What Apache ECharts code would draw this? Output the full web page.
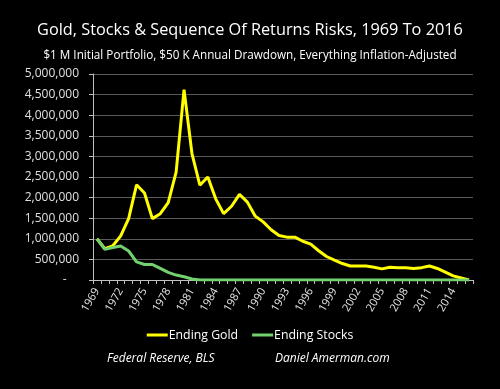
<!DOCTYPE html>
<html><head><meta charset="utf-8">
<script src="https://cdn.jsdelivr.net/npm/echarts@6/dist/echarts.min.js"></script>
<style>html,body{margin:0;padding:0;background:#000;}#c{width:500px;height:389px;}</style>
</head><body><div id="c"></div>
<script>
const years = [];
for (let y = 1969; y <= 2016; y++) years.push(String(y));
const endingGold = [1000000, 760000, 830000, 1070000, 1490000, 2310000, 2110000, 1490000, 1610000, 1880000,
  2620000, 4620000, 3070000, 2300000, 2500000, 1970000, 1610000, 1790000, 2080000, 1890000,
  1550000, 1410000, 1220000, 1080000, 1040000, 1040000, 940000, 870000, 710000, 570000,
  480000, 400000, 340000, 340000, 340000, 310000, 270000, 310000, 300000, 300000,
  280000, 300000, 340000, 280000, 190000, 100000, 50000, 0];
const endingStocks = [1000000, 744000, 790000, 824000, 704000, 440000, 376000, 376000, 280000, 184000,
  120000, 80000, 24000, 0, 0, 0, 0, 0, 0, 0,
  0, 0, 0, 0, 0, 0, 0, 0, 0, 0,
  0, 0, 0, 0, 0, 0, 0, 0, 0, 0,
  0, 0, 0, 0, 0, 0, 0, 0];
const titleText = 'Gold, Stocks & Sequence Of Returns Risks, 1969 To 2016';
const subtitleText = '$1 M Initial Portfolio, $50 K Annual Drawdown, Everything Inflation-Adjusted';
const sourceLeft = 'Federal Reserve, BLS';
const sourceRight = 'Daniel Amerman.com';

const FONT = '"Open Sans", sans-serif';
const chart = echarts.init(document.getElementById('c'));
chart.setOption({
  backgroundColor: '#000',
  animation: false,
  textStyle: { fontFamily: FONT },
  title: [
    { text: titleText, left: 'center', top: 17, textStyle: { color: '#fff', fontSize: 16.3, fontWeight: 'normal', fontFamily: FONT } },
    { text: subtitleText, left: 'center', top: 45, textStyle: { color: '#fff', fontSize: 11.7, fontWeight: 'normal', fontFamily: FONT } }
  ],
  grid: { left: 93, right: 27, top: 74, bottom: 109, containLabel: false },
  legend: {
    top: 324, left: 'center',
    itemWidth: 21, itemHeight: 3, itemGap: 14,
    icon: 'rect',
    textStyle: { color: '#fff', fontSize: 12.3, fontFamily: FONT, padding: [0, 0, 0, -4] },
    data: ['Ending Gold', 'Ending Stocks']
  },
  xAxis: {
    type: 'category', data: years, boundaryGap: true,
    axisLine: { lineStyle: { color: '#bfbfbf', width: 1 } },
    axisTick: { show: true, interval: 0, length: 4, lineStyle: { color: '#bfbfbf' } },
    axisLabel: { show: true, interval: 2, rotate: 60, hideOverlap: false, color: '#e6e6e6', fontSize: 11, fontFamily: FONT, margin: 9 },
    splitLine: { show: false }
  },
  yAxis: {
    type: 'value', min: 0, max: 5000000, interval: 500000,
    axisLine: { show: true, lineStyle: { color: '#bfbfbf' } },
    axisTick: { show: true, length: 4, lineStyle: { color: '#bfbfbf' } },
    axisLabel: {
      color: '#e0e0e0', fontSize: 12, fontFamily: FONT, margin: 14,
      formatter: v => v === 0 ? '-    ' : v.toLocaleString('en-US')
    },
    splitLine: { show: true, lineStyle: { color: '#595959', width: 1 } }
  },
  series: [
    { name: 'Ending Gold', type: 'line', data: endingGold, symbol: 'none', smooth: false,
      lineStyle: { color: '#ffff00', width: 3 }, itemStyle: { color: '#ffff00' }, z: 2 },
    { name: 'Ending Stocks', type: 'line', data: endingStocks, symbol: 'none', smooth: false,
      lineStyle: { color: '#72d06e', width: 3 }, itemStyle: { color: '#72d06e' }, z: 3 }
  ],
  graphic: [
    { type: 'text', left: 107, top: 353, style: { text: sourceLeft, fill: '#fff', font: 'italic 12px ' + FONT } },
    { type: 'text', left: 275, top: 353, style: { text: sourceRight, fill: '#fff', font: 'italic 12px ' + FONT } }
  ]
});
</script>
</body></html>
